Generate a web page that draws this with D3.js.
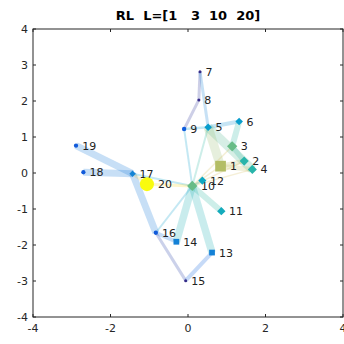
<!DOCTYPE html>
<html>
<head>
<meta charset="utf-8">
<script src="https://cdn.jsdelivr.net/npm/d3@7"></script>
<style>
body { margin: 0; background: #fff; }
text { font-family: "DejaVu Sans", sans-serif; }
</style>
</head>
<body>
<svg width="344" height="344"></svg>
<script>
// graph data
var nodeIds = [1, 2, 3, 4, 5, 6, 7, 8, 9, 10, 11, 12, 13, 14, 15, 16, 17, 18, 19, 20];
var nodeX = [0.84, 1.45, 1.14, 1.66, 0.52, 1.32, 0.31, 0.28, -0.10, 0.11, 0.86, 0.37, 0.62, -0.30, -0.06, -0.83, -1.43, -2.70, -2.89, -1.06];
var nodeY = [0.19, 0.33, 0.74, 0.10, 1.27, 1.43, 2.81, 2.03, 1.22, -0.36, -1.06, -0.21, -2.21, -1.91, -2.99, -1.66, -0.02, 0.02, 0.76, -0.31];
var nodeVal = [0.70, 0.48, 0.58, 0.48, 0.35, 0.35, 0.0, 0.0, 0.13, 0.58, 0.42, 0.40, 0.25, 0.25, 0.0, 0.12, 0.26, 0.12, 0.12, 1.0];

var edgeFrom = [7, 7, 8, 9, 9, 5, 6, 5, 5, 3, 1, 1, 10, 10, 10, 10, 10, 10, 10, 10, 10, 10, 10, 10, 17, 17, 17, 17, 16, 16, 15];
var edgeTo   = [8, 5, 9, 5, 10, 6, 3, 4, 1, 2, 2, 4, 1, 2, 3, 4, 5, 11, 12, 13, 14, 16, 17, 20, 19, 18, 16, 20, 14, 15, 13];
var edgeWeight = [3, 3, 3, 2.5, 2, 4, 6, 9, 9, 5, 5, 5, 1.5, 1.5, 1.5, 1.5, 2, 6, 2, 7.5, 7.5, 2, 2, 3, 7, 7, 7, 3, 4, 3, 4];
var edgeVal = [0.03, 0.25, 0.03, 0.35, 0.35, 0.3, 0.5, 0.55, 0.65, 0.5, 0.72, 0.72, 0.76, 0.76, 0.76, 0.76, 0.5, 0.5, 0.45, 0.45, 0.45, 0.35, 0.38, 0.92, 0.22, 0.22, 0.22, 0.8, 0.2, 0.05, 0.15];

var xTicks = [-4, -2, 0, 2, 4];
var yTicks = [-4, -3, -2, -1, 0, 1, 2, 3, 4];
var titleText = 'RL  L=[1   3  10  20]';

var svg = d3.select('svg');
var plot = { l: 33, r: 343, t: 29, b: 317 };

var x = d3.scaleLinear().domain([-4, 4]).range([plot.l, plot.r]);
var y = d3.scaleLinear().domain([-4, 4]).range([plot.b, plot.t]);

// parula-like colour map
var parula = d3.scaleLinear()
    .domain([0, 0.125, 0.25, 0.375, 0.5, 0.625, 0.75, 0.875, 1])
    .range(['#352a87', '#0f5cdd', '#1481d6', '#06a4ca', '#2eb7a4', '#87bf77', '#d1bb59', '#fec832', '#f9fb0e'])
    .interpolate(d3.interpolateRgb);
var size = d3.scaleLinear().domain([0, 1]).range([3, 14]);

var nodes = nodeIds.map(function(id, i) {
    return { id: id, x: nodeX[i], y: nodeY[i], v: nodeVal[i] };
});
var byId = {};
nodes.forEach(function(n) { byId[n.id] = n; });
var edges = edgeFrom.map(function(f, i) {
    return { s: byId[f], t: byId[edgeTo[i]], w: edgeWeight[i], v: edgeVal[i] };
});

// edges
svg.append('g').selectAll('line')
    .data(edges)
    .enter().append('line')
    .attr('x1', function(d) { return x(d.s.x); })
    .attr('y1', function(d) { return y(d.s.y); })
    .attr('x2', function(d) { return x(d.t.x); })
    .attr('y2', function(d) { return y(d.t.y); })
    .attr('stroke', function(d) { return parula(d.v); })
    .attr('stroke-width', function(d) { return d.w; })
    .attr('stroke-opacity', 0.24);

// marker shapes
var squares = [1, 13, 14];
var circles = [20, 7, 8, 9, 15, 16, 18, 19];
function markerPath(d) {
    var s = size(d.v) / 2;
    if (squares.indexOf(d.id) >= 0)
        return 'M' + -s + ',' + -s + 'H' + s + 'V' + s + 'H' + -s + 'Z';
    if (circles.indexOf(d.id) >= 0)
        return d3.arc()({ innerRadius: 0, outerRadius: s, startAngle: 0, endAngle: 2 * Math.PI });
    s = s * 1.1;
    return 'M0,' + -s + 'L' + s + ',0L0,' + s + 'L' + -s + ',0Z';
}

var nodeG = svg.append('g').selectAll('g')
    .data(nodes)
    .enter().append('g')
    .attr('transform', function(d) { return 'translate(' + x(d.x) + ',' + y(d.y) + ')'; });

nodeG.append('path')
    .attr('d', markerPath)
    .attr('fill', function(d) { return parula(d.v); });

nodeG.append('text')
    .attr('x', function(d) { return size(d.v) / 2 + 4; })
    .attr('y', 4)
    .style('font-size', '11px')
    .attr('fill', '#222')
    .text(function(d) { return d.id; });

// axes box
var axisColor = '#262626';
svg.append('rect')
    .attr('x', plot.l).attr('y', plot.t)
    .attr('width', plot.r - plot.l).attr('height', plot.b - plot.t)
    .attr('fill', 'none').attr('stroke', axisColor).attr('stroke-width', 1);

var axG = svg.append('g');
xTicks.forEach(function(t) {
    axG.append('line').attr('x1', x(t)).attr('x2', x(t)).attr('y1', plot.b).attr('y2', plot.b - 3).attr('stroke', axisColor);
    axG.append('line').attr('x1', x(t)).attr('x2', x(t)).attr('y1', plot.t).attr('y2', plot.t + 3).attr('stroke', axisColor);
    axG.append('text').attr('x', x(t)).attr('y', plot.b + 15)
        .attr('text-anchor', 'middle').style('font-size', '11px').attr('fill', axisColor)
        .text(t);
});
yTicks.forEach(function(t) {
    axG.append('line').attr('y1', y(t)).attr('y2', y(t)).attr('x1', plot.l).attr('x2', plot.l + 3).attr('stroke', axisColor);
    axG.append('line').attr('y1', y(t)).attr('y2', y(t)).attr('x1', plot.r).attr('x2', plot.r - 3).attr('stroke', axisColor);
    axG.append('text').attr('x', plot.l - 5).attr('y', y(t) + 4)
        .attr('text-anchor', 'end').style('font-size', '11px').attr('fill', axisColor)
        .text(t);
});

svg.append('text')
    .attr('x', (plot.l + plot.r) / 2).attr('y', 20)
    .attr('text-anchor', 'middle')
    .style('font-size', '13px').style('font-weight', 'bold')
    .style('white-space', 'pre')
    .attr('fill', '#000')
    .text(titleText);
</script>
</body>
</html>
